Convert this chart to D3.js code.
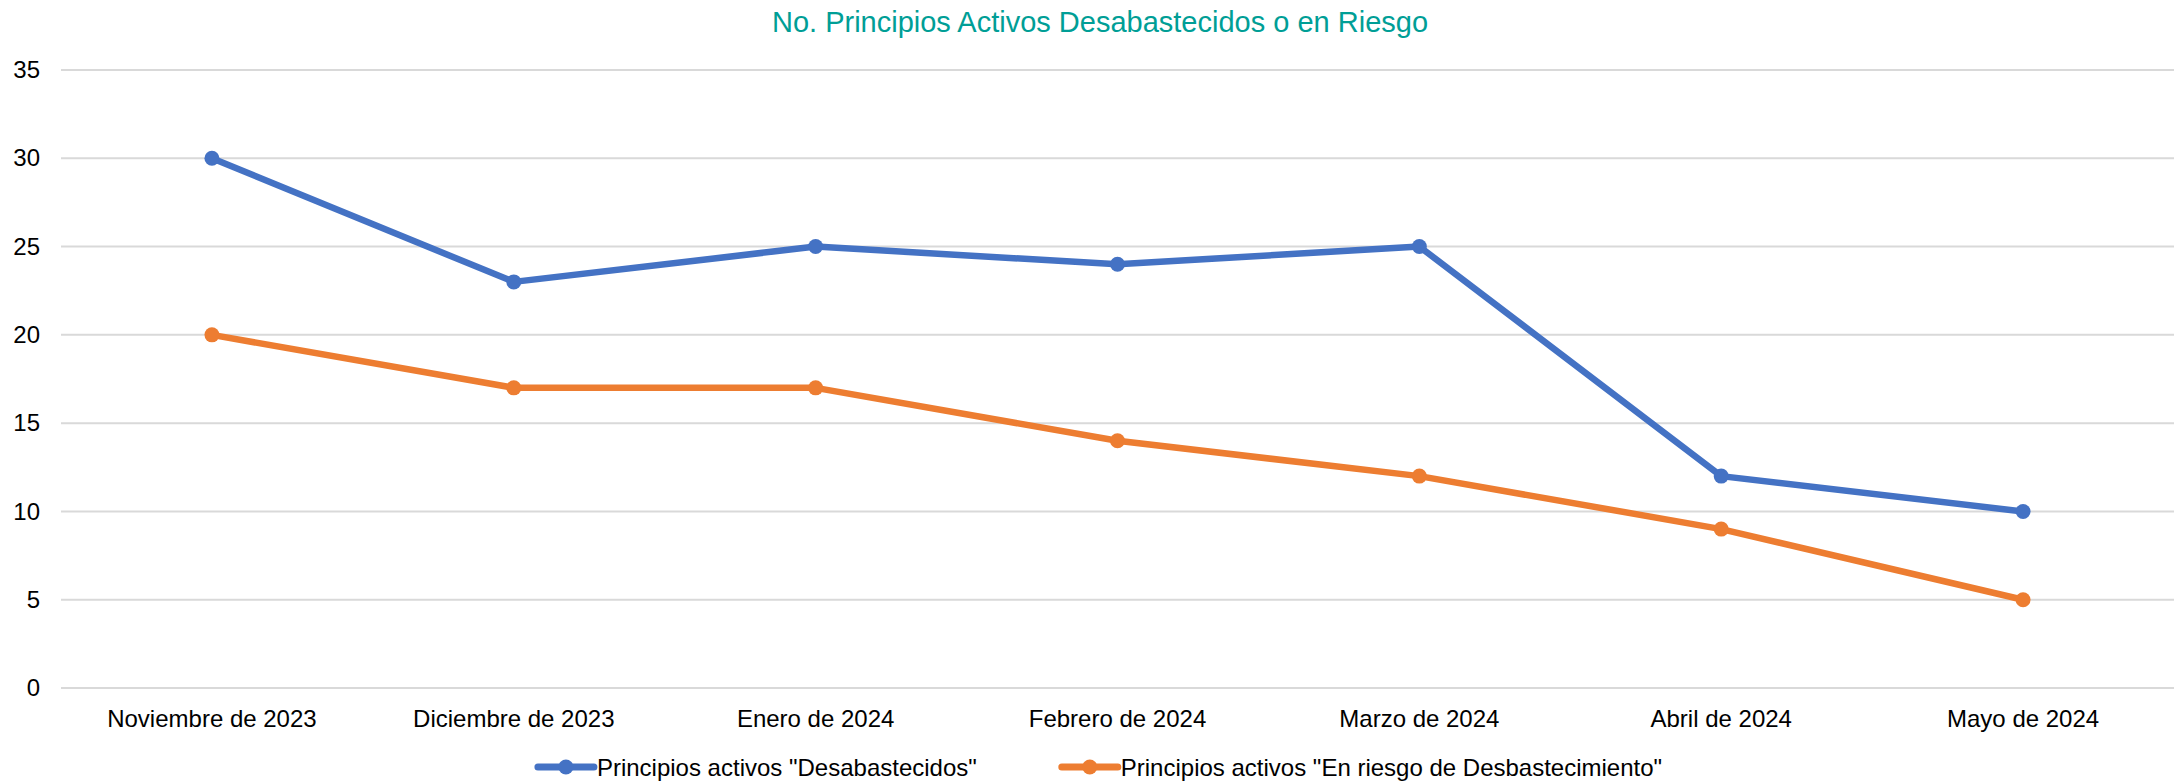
<!DOCTYPE html>
<html>
<head>
<meta charset="utf-8">
<script src="https://cdn.jsdelivr.net/npm/d3@7"></script>
<style>
  body { margin: 0; background: #fff; }
  text { font-family: "Liberation Sans", Arial, sans-serif; }
</style>
</head>
<body>
<svg id="grafico"></svg>
<script>
// Datos del gráfico
var meses = ["Noviembre de 2023", "Diciembre de 2023", "Enero de 2024", "Febrero de 2024", "Marzo de 2024", "Abril de 2024", "Mayo de 2024"];
var desabastecidos = [30, 23, 25, 24, 25, 12, 10];
var enRiesgo = [20, 17, 17, 14, 12, 9, 5];
var ticksY = [0, 5, 10, 15, 20, 25, 30, 35];
var nombresSeries = ['Principios activos "Desabastecidos"', 'Principios activos "En riesgo de Desbastecimiento"'];
var colores = ["#4472C4", "#ED7D31"];
var titulo = "No. Principios Activos Desabastecidos o en Riesgo";

var width = 2174;
var height = 781;
var margin = { top: 70, right: 0, bottom: 93, left: 61 };

var svg = d3.select("#grafico")
  .attr("width", width)
  .attr("height", height);

// Escalas
var x = d3.scaleBand()
  .domain(meses)
  .range([margin.left, width - margin.right]);

var y = d3.scaleLinear()
  .domain([0, 35])
  .range([height - margin.bottom, margin.top]);

// Titulo
svg.append("text")
  .attr("x", 1100)
  .attr("y", 32)
  .attr("text-anchor", "middle")
  .style("font-size", "29px")
  .style("fill", "#009E96")
  .text(titulo);

// Líneas de cuadrícula
svg.append("g")
  .selectAll("line")
  .data(ticksY)
  .enter().append("line")
  .attr("x1", margin.left)
  .attr("x2", width - margin.right)
  .attr("y1", d => y(d))
  .attr("y2", d => y(d))
  .style("stroke", "#D9D9D9")
  .style("stroke-width", 2);

// Eje Y
var ejeY = svg.append("g")
  .attr("transform", "translate(40,0)")
  .call(d3.axisLeft(y).tickValues(ticksY).tickSize(0).tickPadding(0));
ejeY.select(".domain").remove();
ejeY.selectAll("text")
  .style("font-size", "24px")
  .style("fill", "#000")
  .attr("font-family", null);

// Eje X
var ejeX = svg.append("g")
  .attr("transform", "translate(0," + (height - margin.bottom) + ")")
  .call(d3.axisBottom(x).tickSize(0).tickPadding(0));
ejeX.select(".domain").remove();
ejeX.selectAll("text")
  .attr("dy", null)
  .attr("y", 39)
  .style("font-size", "24px")
  .style("fill", "#000")
  .attr("font-family", null);

// Series
var series = [desabastecidos, enRiesgo];
var linea = d3.line()
  .x((d, i) => x(meses[i]) + x.bandwidth() / 2)
  .y(d => y(d));

series.forEach(function (valores, k) {
  svg.append("path")
    .datum(valores)
    .attr("d", linea)
    .style("fill", "none")
    .style("stroke", colores[k])
    .style("stroke-width", 6.5)
    .style("stroke-linejoin", "round");

  svg.append("g")
    .selectAll("circle")
    .data(valores)
    .enter().append("circle")
    .attr("cx", (d, i) => x(meses[i]) + x.bandwidth() / 2)
    .attr("cy", d => y(d))
    .attr("r", 7.5)
    .style("fill", colores[k]);
});

// Leyenda
var leyenda = svg.append("g");
var items = leyenda.selectAll("g")
  .data(nombresSeries)
  .enter().append("g");

items.append("line")
  .attr("x1", 0).attr("x2", 56)
  .attr("y1", 0).attr("y2", 0)
  .style("stroke", (d, i) => colores[i])
  .style("stroke-width", 7)
  .style("stroke-linecap", "round");
items.append("circle")
  .attr("cx", 28).attr("cy", 0).attr("r", 7.5)
  .style("fill", (d, i) => colores[i]);
items.append("text")
  .attr("x", 59)
  .attr("y", 8.5)
  .style("font-size", "24px")
  .style("fill", "#000")
  .text(d => d);

// Colocar elementos de la leyenda centrados
var anchos = [];
items.each(function () { anchos.push(this.getBBox().width); });
var hueco = 85;
var total = d3.sum(anchos) + hueco * (anchos.length - 1);
var pos = 1100 - total / 2;
items.attr("transform", function (d, i) {
  var t = "translate(" + pos + ",767)";
  pos += anchos[i] + hueco;
  return t;
});
</script>
</body>
</html>
